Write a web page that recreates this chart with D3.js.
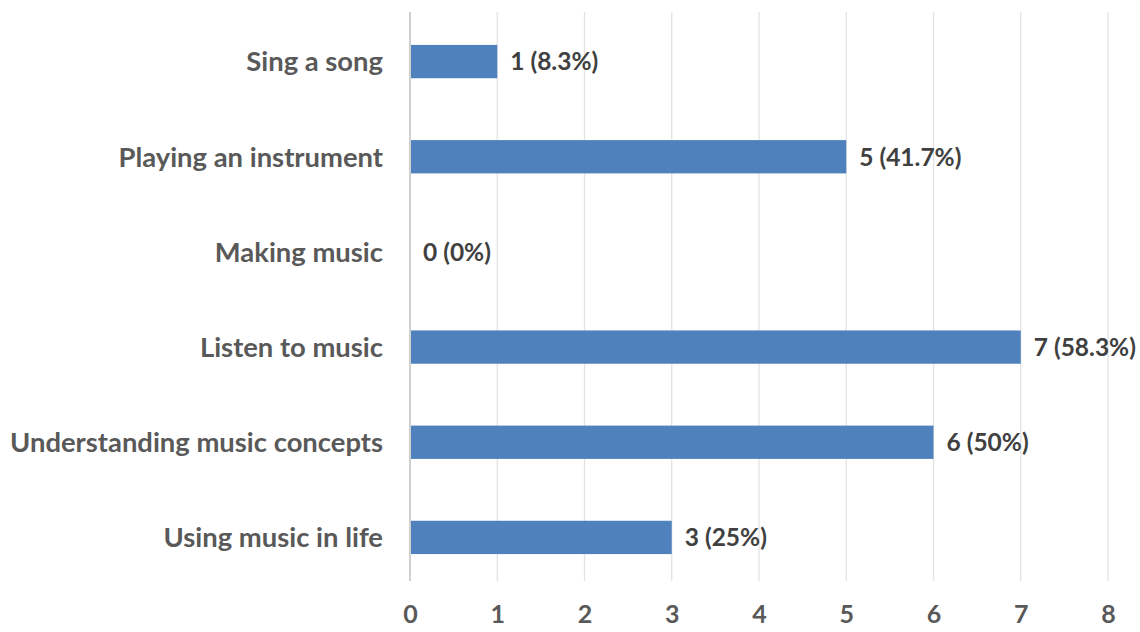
<!DOCTYPE html>
<html>
<head>
<meta charset="utf-8">
<script src="https://cdn.jsdelivr.net/npm/d3@7"></script>
<style>
  body { margin: 0; background: #fff; }
  text { font-family: Lato, "Open Sans", sans-serif; font-weight: bold; fill: #595959; }
</style>
</head>
<body>
<div id="chart"></div>
<script>
const categories = [
    "Sing a song",
    "Playing an instrument",
    "Making music",
    "Listen to music",
    "Understanding music concepts",
    "Using music in life"
];
const counts = [1, 5, 0, 7, 6, 3];
const percentLabels = ["8.3%", "41.7%", "0%", "58.3%", "50%", "25%"];
const xTicks = [0, 1, 2, 3, 4, 5, 6, 7, 8];

const drawChart = id => {
    const width = 1140;
    const height = 632;
    const margin = { top: 14, right: 32, bottom: 47, left: 410 };

    const svg = d3.select(id)
        .append("svg")
        .attr("width", width)
        .attr("height", height);

    const x = d3.scaleLinear()
        .domain([0, 8])
        .range([margin.left, width - margin.right]);

    const y = d3.scaleBand()
        .domain(categories)
        .range([margin.top, height - margin.bottom])
        .paddingInner(0.65)
        .paddingOuter(0.325);

    // gridlines
    svg.append("g")
        .selectAll("line")
        .data(xTicks.slice(1))
        .join("line")
        .attr("x1", d => x(d))
        .attr("x2", d => x(d))
        .attr("y1", 12)
        .attr("y2", 581)
        .attr("stroke", "#e3e3e3")
        .attr("stroke-width", 1.3);

    const data = categories.map((c, i) => ({ name: c, value: counts[i], pct: percentLabels[i] }));

    svg.append("g")
        .selectAll("rect")
        .data(data)
        .join("rect")
        .attr("x", x(0))
        .attr("y", d => y(d.name))
        .attr("width", d => x(d.value) - x(0))
        .attr("height", y.bandwidth())
        .attr("fill", "#4f81bd");

    // axis line at zero
    svg.append("line")
        .attr("x1", x(0))
        .attr("x2", x(0))
        .attr("y1", 12)
        .attr("y2", 581)
        .attr("stroke", "#d0d0d0")
        .attr("stroke-width", 2);

    // value labels
    svg.append("g")
        .selectAll("text")
        .data(data)
        .join("text")
        .attr("x", d => x(d.value) + 13)
        .attr("y", d => y(d.name) + y.bandwidth() / 2)
        .attr("dy", "0.36em")
        .style("font-size", "24.5px")
        .style("fill", "#404040")
        .text(d => `${d.value} (${d.pct})`);

    // category labels
    svg.append("g")
        .selectAll("text")
        .data(categories)
        .join("text")
        .attr("x", margin.left - 27)
        .attr("y", d => y(d) + y.bandwidth() / 2)
        .attr("dy", "0.36em")
        .attr("text-anchor", "end")
        .style("font-size", "27.4px")
        .text(d => d);

    // x axis
    const xAxis = svg.append("g")
        .attr("transform", `translate(0,${height - margin.bottom})`)
        .call(d3.axisBottom(x).tickValues(xTicks).tickSize(0).tickPadding(20));
    xAxis.select(".domain").remove();
    xAxis.selectAll("text")
        .style("font-size", "25px")
        .style("fill", "#595959");
};

drawChart("#chart");
</script>
</body>
</html>
